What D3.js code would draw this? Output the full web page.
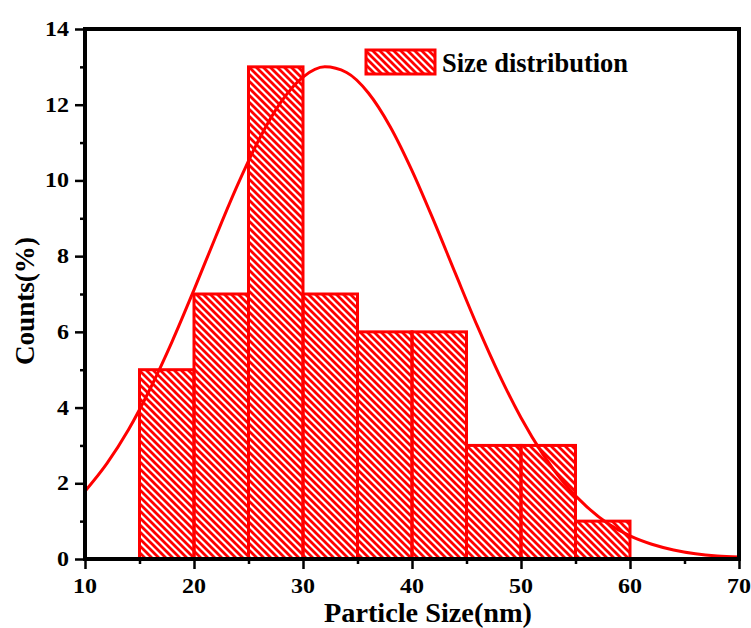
<!DOCTYPE html>
<html>
<head>
<meta charset="utf-8">
<script src="https://cdn.jsdelivr.net/npm/d3@7"></script>
<style>
  body { margin: 0; background: #fff; }
  text { font-family: "Liberation Serif", "Times New Roman", serif; font-weight: bold; }
</style>
</head>
<body>
<svg id="chart"></svg>
<script>
// histogram bins (nm) and counts (%)
const binStart = [15, 20, 25, 30, 35, 40, 45, 50, 55];
const binEnd   = [20, 25, 30, 35, 40, 45, 50, 55, 60];
const counts   = [5, 7, 13, 7, 6, 6, 3, 3, 1];

// fitted curve
const fitX = [10, 12, 14, 16, 18, 20, 22, 24, 26, 28, 30, 32, 34, 36, 38, 40,
              42, 44, 46, 48, 50, 52, 54, 56, 58, 60, 62, 64, 66, 68, 70];
const fitY = [1.79, 2.52, 3.42, 4.51, 5.75, 7.11, 8.52, 9.88, 11.1, 12.08, 12.73, 13.0,
              12.85, 12.31, 11.42, 10.26, 8.93, 7.53, 6.15, 4.87, 3.73, 2.77, 1.99,
              1.39, 0.93, 0.61, 0.39, 0.24, 0.14, 0.08, 0.05];

const xTicks = [10, 20, 30, 40, 50, 60, 70];
const yTicks = [0, 2, 4, 6, 8, 10, 12, 14];

const width = 751, height = 628;
const margin = {left: 85, right: 12, top: 29, bottom: 69};

const svg = d3.select('#chart').attr('width', width).attr('height', height);

const x = d3.scaleLinear().domain([10, 70]).range([margin.left, width - margin.right]);
const y = d3.scaleLinear().domain([0, 14]).range([height - margin.bottom, margin.top]);

// hatch pattern
const defs = svg.append('defs');
defs.append('pattern')
  .attr('id', 'hatch')
  .attr('patternUnits', 'userSpaceOnUse')
  .attr('width', 7).attr('height', 7)
  .append('path')
    .attr('d', 'M-3.5,3.5 L3.5,10.5 M0,0 L7,7 M3.5,-3.5 L10.5,3.5')
    .attr('stroke', '#ff0000')
    .attr('stroke-width', 2.8);

// bars
svg.append('g')
  .selectAll('rect')
  .data(counts)
  .enter().append('rect')
    .attr('x', (d, i) => x(binStart[i]))
    .attr('y', d => y(d))
    .attr('width', (d, i) => x(binEnd[i]) - x(binStart[i]))
    .attr('height', d => y(0) - y(d))
    .attr('fill', 'url(#hatch)')
    .attr('stroke', '#ff0000')
    .attr('stroke-width', 3);

// fit curve
const line = d3.line()
  .x((d, i) => x(fitX[i]))
  .y(d => y(d))
  .curve(d3.curveMonotoneX);

svg.append('path')
  .datum(fitY)
  .attr('d', line)
  .attr('fill', 'none')
  .attr('stroke', '#ff0000')
  .attr('stroke-width', 3);

// axes
const xAxis = d3.axisBottom(x).tickValues(d3.range(10, 71, 5))
  .tickSize(0).tickFormat('');
const yAxis = d3.axisLeft(y).tickValues(d3.range(0, 15, 1))
  .tickSize(0).tickFormat('');

const gx = svg.append('g').attr('transform', `translate(0,${y(0)})`).call(xAxis);
gx.select('.domain').remove();
gx.selectAll('.tick line')
  .attr('y2', d => xTicks.includes(d) ? 10 : 5)
  .attr('stroke', '#000').attr('stroke-width', 2.5);
gx.selectAll('.tick text').remove();

const gy = svg.append('g').attr('transform', `translate(${x(10)},0)`).call(yAxis);
gy.select('.domain').remove();
gy.selectAll('.tick line')
  .attr('x2', d => yTicks.includes(d) ? -10 : -5)
  .attr('stroke', '#000').attr('stroke-width', 2.5);
gy.selectAll('.tick text').remove();

// tick labels (the original font is a bit wider than Liberation Serif)
svg.append('g').selectAll('text')
  .data(xTicks)
  .enter().append('text')
    .attr('transform', d => `translate(${x(d)},${y(0) + 34}) scale(1.2,1)`)
    .attr('text-anchor', 'middle')
    .attr('font-size', 20)
    .text(d => d);

svg.append('g').selectAll('text')
  .data(yTicks)
  .enter().append('text')
    .attr('transform', d => `translate(${x(10) - 16},${y(d) + 7}) scale(1.2,1)`)
    .attr('text-anchor', 'end')
    .attr('font-size', 20)
    .text(d => d);

// frame
svg.append('rect')
  .attr('x', x(10)).attr('y', y(14))
  .attr('width', x(70) - x(10)).attr('height', y(0) - y(14))
  .attr('fill', 'none')
  .attr('stroke', '#000')
  .attr('stroke-width', 4);

// axis titles
svg.append('text')
  .attr('x', 428)
  .attr('y', 622)
  .attr('text-anchor', 'middle')
  .attr('font-size', 28)
  .attr('textLength', 208)
  .attr('lengthAdjust', 'spacingAndGlyphs')
  .text('Particle Size(nm)');

svg.append('text')
  .attr('transform', `translate(34,301) rotate(-90)`)
  .attr('text-anchor', 'middle')
  .attr('font-size', 28)
  .attr('textLength', 128)
  .attr('lengthAdjust', 'spacingAndGlyphs')
  .text('Counts(%)');

// legend
const legend = svg.append('g');
legend.append('rect')
  .attr('x', 366).attr('y', 50)
  .attr('width', 69).attr('height', 24)
  .attr('fill', 'url(#hatch)')
  .attr('stroke', '#ff0000')
  .attr('stroke-width', 3);
legend.append('text')
  .attr('x', 442).attr('y', 72)
  .attr('font-size', 28)
  .attr('textLength', 186)
  .attr('lengthAdjust', 'spacingAndGlyphs')
  .text('Size distribution');
</script>
</body>
</html>
